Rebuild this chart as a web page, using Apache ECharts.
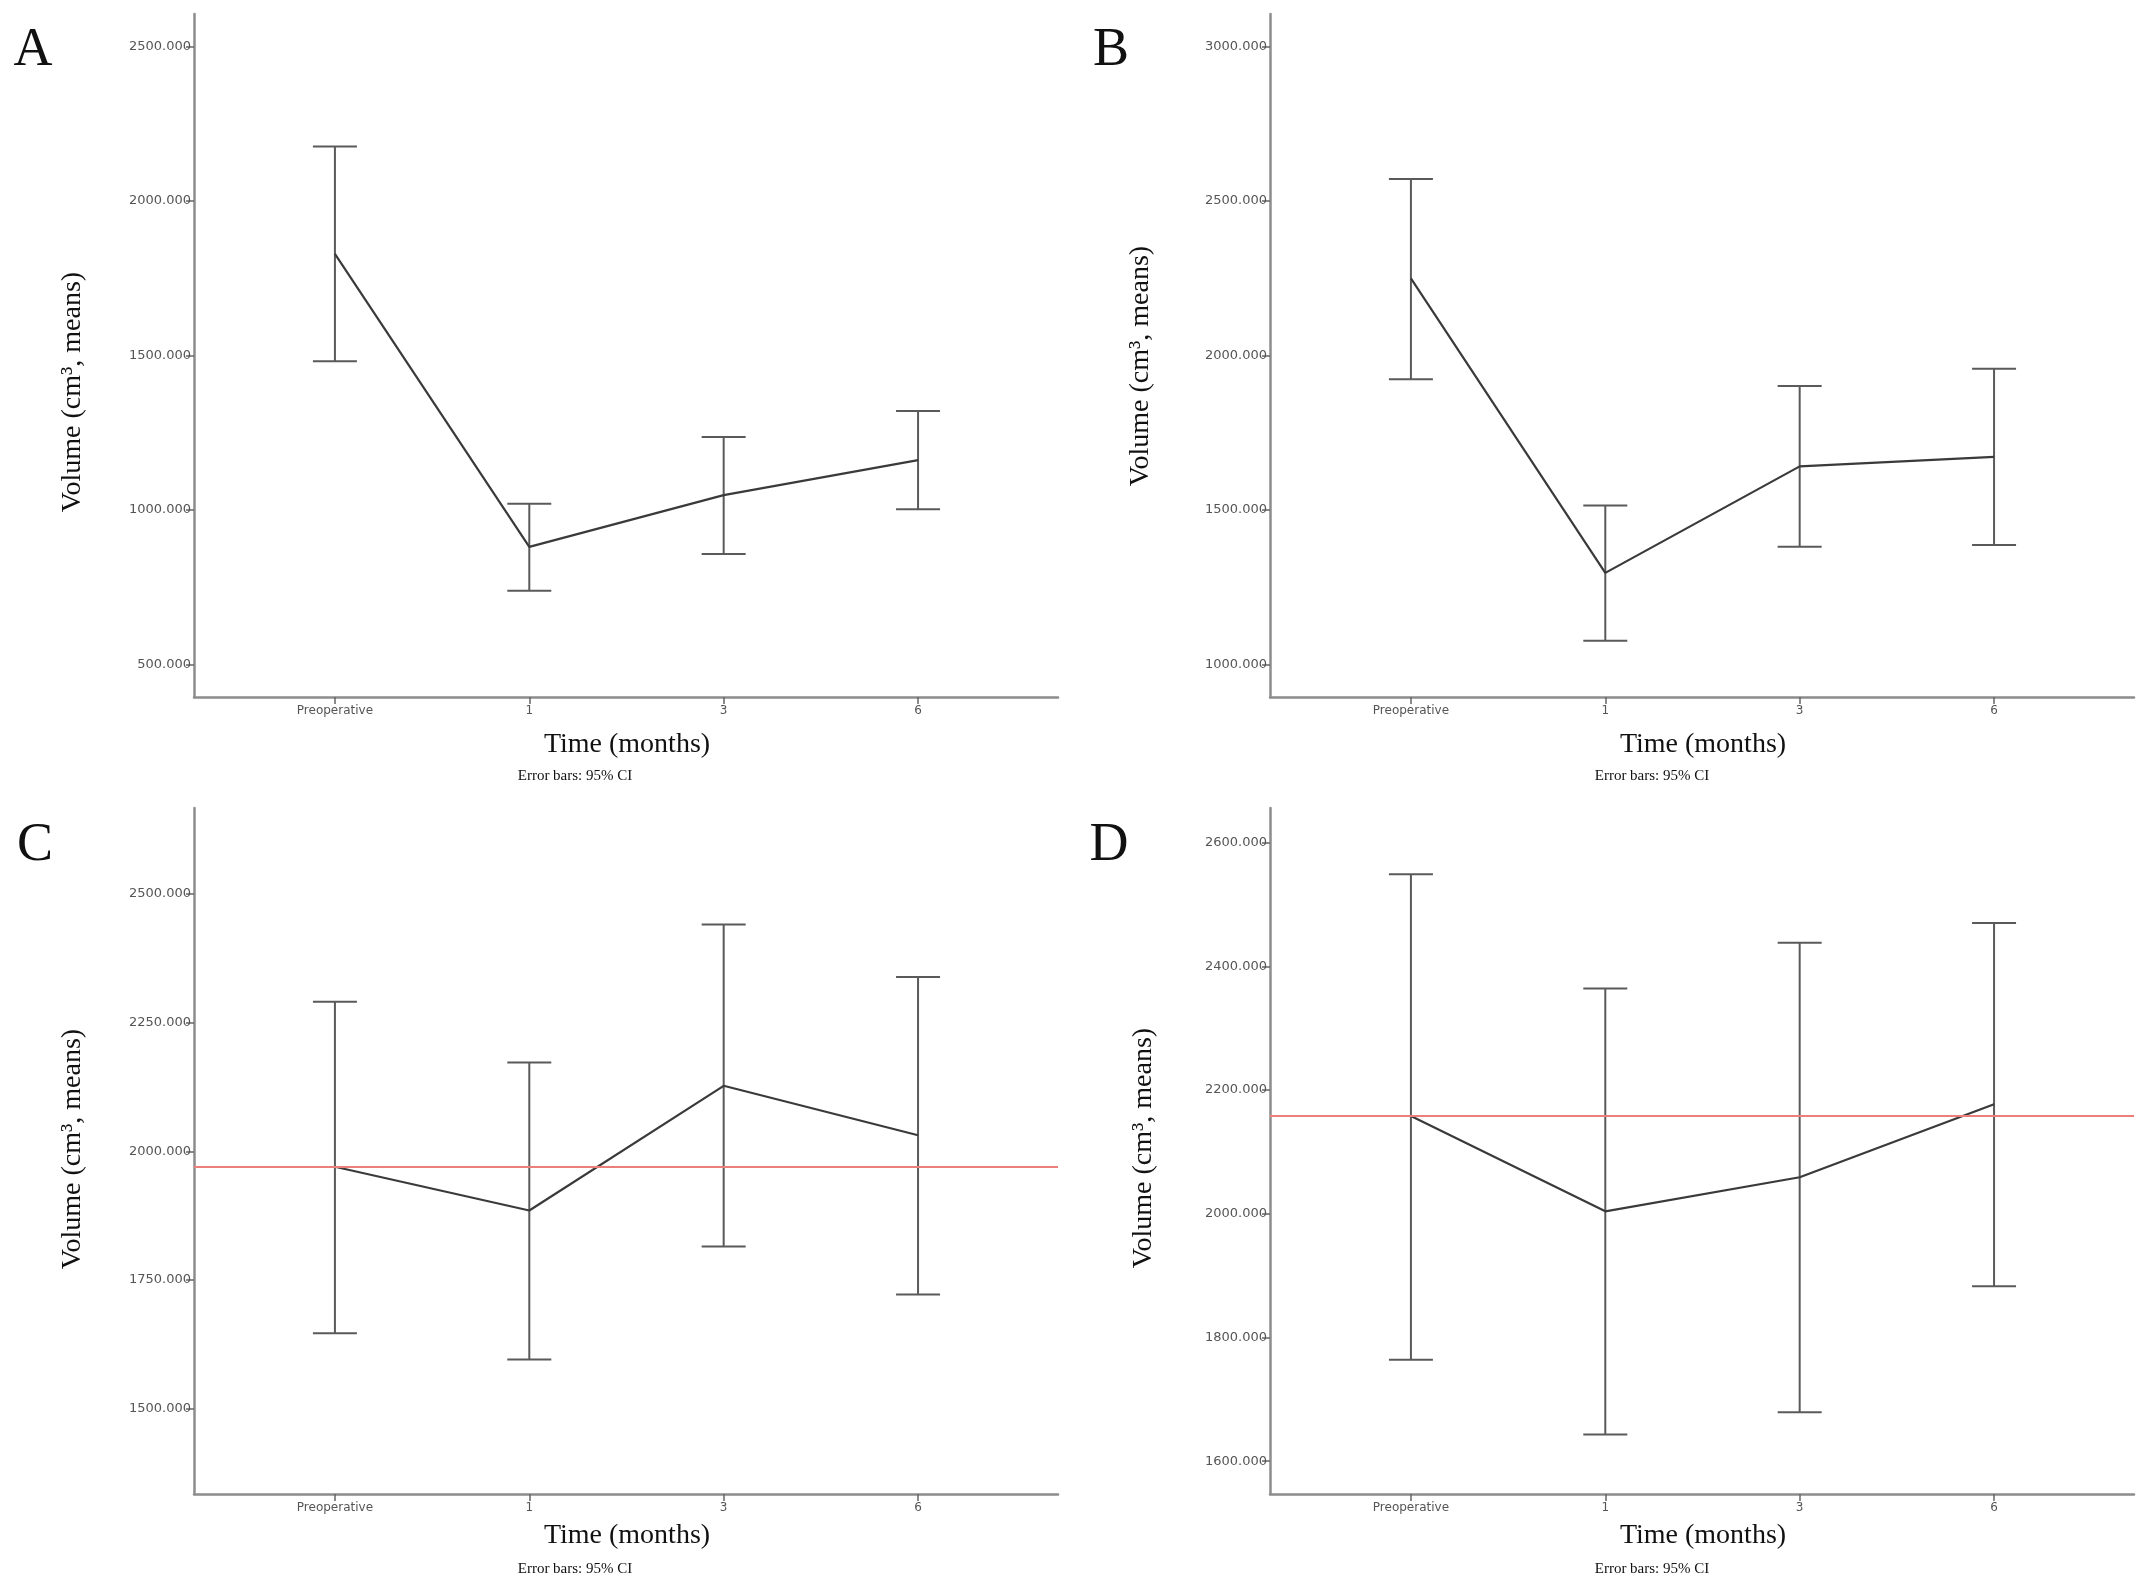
<!DOCTYPE html>
<html>
<head>
<meta charset="utf-8">
<script src="https://cdn.jsdelivr.net/npm/echarts@6/dist/echarts.min.js"></script>
<style>
html,body{margin:0;padding:0;background:#fff;}
#chart{width:2150px;height:1589px;}
</style>
</head>
<body>
<div id="chart"></div>
<script>
// ---- Data ----
const categories = ['Preoperative', '1', '3', '6'];

const A_mean = [1829, 880, 1048, 1161];
const A_lo   = [1481, 738, 857, 1002];
const A_hi   = [2177, 1020, 1236, 1320];
const A_ticks = [500, 1000, 1500, 2000, 2500];

const B_mean = [2250, 1296, 1641, 1672];
const B_lo   = [1923, 1076, 1381, 1386];
const B_hi   = [2572, 1514, 1901, 1957];
const B_ticks = [1000, 1500, 2000, 2500, 3000];

const C_mean = [1970, 1885, 2127, 2031];
const C_lo   = [1647, 1596, 1815, 1722];
const C_hi   = [2290, 2172, 2440, 2338];
const C_ref  = 1970;
const C_ticks = [1500, 1750, 2000, 2250, 2500];

const D_mean = [2158, 2004, 2059, 2177];
const D_lo   = [1764, 1643, 1679, 1883];
const D_hi   = [2549, 2364, 2438, 2470];
const D_ref  = 2158;
const D_ticks = [1600, 1800, 2000, 2200, 2400, 2600];

const panelLetters = ['A', 'B', 'C', 'D'];
const yTitle = 'Volume (cm\u00B3, means)';
const xTitle = 'Time (months)';
const note = 'Error bars: 95% CI';

// ---- Layout ----
const panels = [
  {mean: A_mean, lo: A_lo, hi: A_hi, ticks: A_ticks, ref: null, min: 394, max: 2606,
   grid: {left: 194, top: 14, width: 864, height: 683}},
  {mean: B_mean, lo: B_lo, hi: B_hi, ticks: B_ticks, ref: null, min: 894, max: 3106,
   grid: {left: 1270, top: 14, width: 864, height: 683}},
  {mean: C_mean, lo: C_lo, hi: C_hi, ticks: C_ticks, ref: C_ref, min: 1335, max: 2666,
   grid: {left: 194, top: 808, width: 864, height: 686}},
  {mean: D_mean, lo: D_lo, hi: D_hi, ticks: D_ticks, ref: D_ref, min: 1547, max: 2656,
   grid: {left: 1270, top: 808, width: 864, height: 686}}
];

const idx = categories.map((c, i) => i);
const grids = [], xAxes = [], yAxes = [], series = [];

panels.forEach((p, k) => {
  grids.push(Object.assign({containLabel: false}, p.grid));
  xAxes.push({
    type: 'value', gridIndex: k, min: -0.725, max: 3.72,
    splitLine: {show: false},
    axisLine: {show: true, onZero: false, lineStyle: {color: '#8c8c8c', width: 2.5}},
    axisTick: {show: true, customValues: idx, length: 7, lineStyle: {color: '#666', width: 1.5}},
    axisLabel: {show: true, customValues: idx, formatter: v => categories[Math.round(v)],
      fontFamily: 'DejaVu Sans', fontSize: 12, color: '#555', margin: 8}
  });
  yAxes.push({
    type: 'value', gridIndex: k, min: p.min, max: p.max,
    splitLine: {show: false},
    axisLine: {show: true, onZero: false, lineStyle: {color: '#8c8c8c', width: 2.5}},
    axisTick: {show: true, customValues: p.ticks, length: 8, lineStyle: {color: '#666', width: 1.5}},
    axisLabel: {show: true, customValues: p.ticks, formatter: v => v.toFixed(3),
      fontFamily: 'DejaVu Sans', fontSize: 13, color: '#555', margin: 3}
  });
  series.push({
    type: 'custom', xAxisIndex: k, yAxisIndex: k, silent: true, z: 2,
    data: idx.map(i => [i, p.lo[i], p.hi[i]]),
    encode: {x: 0, y: [1, 2]},
    renderItem: function (params, api) {
      const x = api.value(0);
      const pHi = api.coord([x, api.value(2)]);
      const pLo = api.coord([x, api.value(1)]);
      const hw = 22;
      const st = {stroke: '#5a5a5a', lineWidth: 2};
      return {type: 'group', children: [
        {type: 'line', shape: {x1: pHi[0], y1: pHi[1], x2: pLo[0], y2: pLo[1]}, style: st},
        {type: 'line', shape: {x1: pHi[0] - hw, y1: pHi[1], x2: pHi[0] + hw, y2: pHi[1]}, style: st},
        {type: 'line', shape: {x1: pLo[0] - hw, y1: pLo[1], x2: pLo[0] + hw, y2: pLo[1]}, style: st}
      ]};
    }
  });
  const line = {
    type: 'line', xAxisIndex: k, yAxisIndex: k, z: 3, silent: true,
    symbol: 'none', animation: false,
    lineStyle: {color: '#3a3a3a', width: 2.2},
    data: idx.map(i => [i, p.mean[i]])
  };
  if (p.ref !== null) {
    line.markLine = {
      silent: true, symbol: 'none', animation: false,
      label: {show: false},
      lineStyle: {color: '#ec7f7a', width: 2, type: 'solid'},
      data: [{yAxis: p.ref}]
    };
  }
  series.push(line);
});

// ---- Text (titles, letters) ----
const serif = '"Liberation Serif", "Times New Roman", serif';
function txt(x, y, text, size, extra) {
  return Object.assign({
    type: 'text', x: x, y: y, silent: true,
    style: {text: text, font: size + 'px ' + serif, fill: '#111',
      textAlign: 'center', textVerticalAlign: 'middle'}
  }, extra || {});
}
const graphics = [
  txt(33, 51, panelLetters[0], 54),
  txt(1111, 51, panelLetters[1], 54),
  txt(35, 846, panelLetters[2], 54),
  txt(1109, 846, panelLetters[3], 54),
  txt(73, 392, yTitle, 28, {rotation: Math.PI / 2}),
  txt(1141, 366, yTitle, 28, {rotation: Math.PI / 2}),
  txt(73, 1149, yTitle, 28, {rotation: Math.PI / 2}),
  txt(1144, 1148, yTitle, 28, {rotation: Math.PI / 2}),
  txt(627, 745, xTitle, 28),
  txt(1703, 745, xTitle, 28),
  txt(627, 1536, xTitle, 28),
  txt(1703, 1536, xTitle, 28),
  txt(575, 776, note, 15),
  txt(1652, 776, note, 15),
  txt(575, 1569, note, 15),
  txt(1652, 1569, note, 15)
];

const chart = echarts.init(document.getElementById('chart'), null, {renderer: 'canvas'});
chart.setOption({
  backgroundColor: '#ffffff',
  animation: false,
  grid: grids,
  xAxis: xAxes,
  yAxis: yAxes,
  series: series,
  graphic: graphics
});
</script>
</body>
</html>
